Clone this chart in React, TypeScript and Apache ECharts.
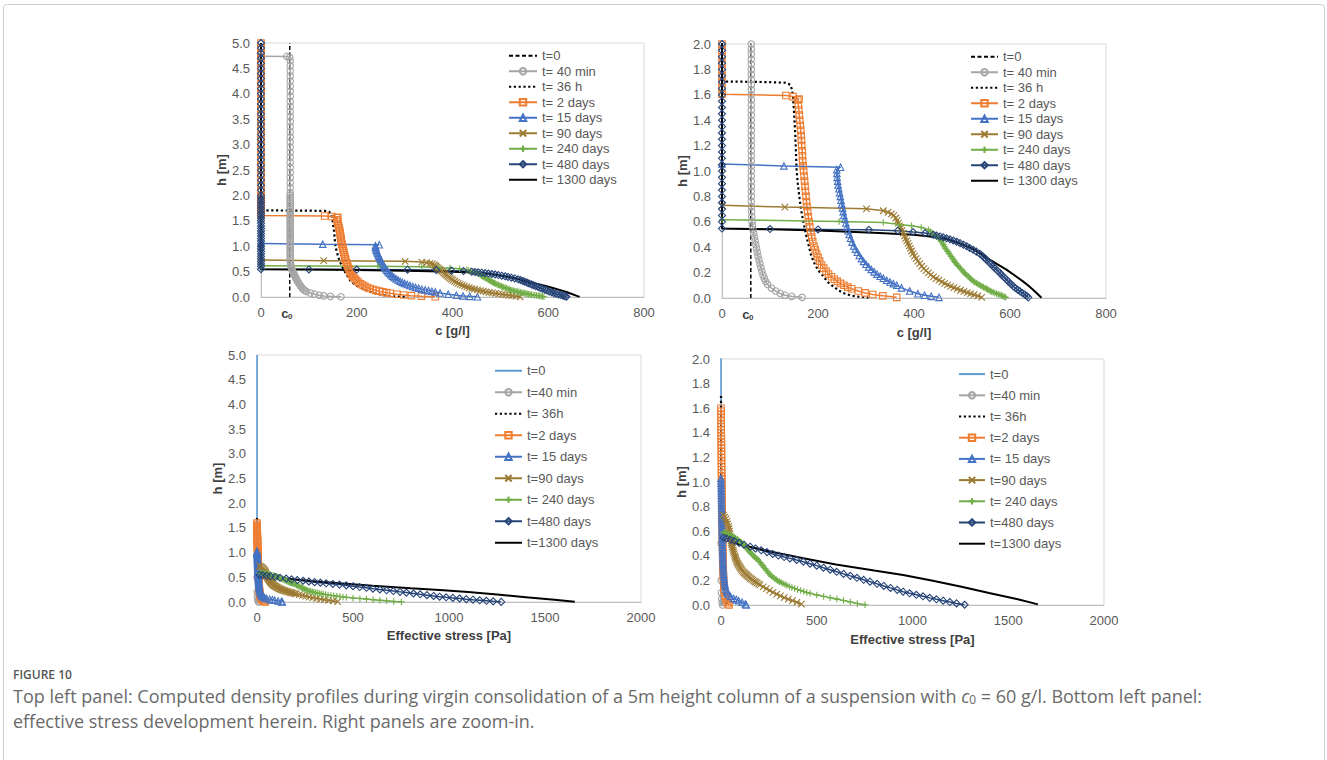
import React, { useEffect, useRef } from "react";
import * as echarts from "echarts";

type Pt = [number, number];

// ---------- legend names ----------
const topNames = ["t=0", "t= 40 min", "t= 36 h", "t= 2 days", "t= 15 days", "t= 90 days", "t= 240 days", "t= 480 days", "t= 1300 days"];
const bottomNames = ["t=0", "t=40 min", "t= 36h", "t=2 days", "t= 15 days", "t=90 days", "t= 240 days", "t=480 days", "t=1300 days"];

// ---------- axis ticks ----------
const cTicks = { min: 0, max: 800, step: 200 };
const sTicks = { min: 0, max: 2000, step: 500 };
const hFull = { min: 0, max: 5, step: 0.5 };
const hZoom = { min: 0, max: 2, step: 0.2 };
const c0Value = 60;

// heights of the marker column along c = 0 (above the interface)
const zeroColumnH = [5.0, 4.9, 4.8, 4.7, 4.6, 4.5, 4.4, 4.3, 4.2, 4.1, 4.0, 3.9, 3.8, 3.7, 3.6, 3.5, 3.4, 3.3, 3.2, 3.1, 3.0, 2.9, 2.8, 2.7, 2.6, 2.5, 2.4, 2.3, 2.2, 2.1, 2.0, 1.95, 1.9, 1.85, 1.8, 1.75, 1.7, 1.65, 1.6, 1.55, 1.5, 1.45, 1.4, 1.35, 1.3, 1.25, 1.2, 1.15, 1.1, 1.05, 1.0, 0.95, 0.9, 0.85, 0.8, 0.75, 0.7, 0.65, 0.6];

// interface heights (top of sediment) per time
const interfaceH = [5.0, 4.74, 1.705, 1.605, 1.055, 0.73, 0.616, 0.547, 0.548];

// ---------- density profiles [c (g/l), h (m)] ----------
const densT0: Pt[] = [[60, 0], [60, 5]];
const dens40min: Pt[] = [[0, 4.74], [54, 4.735], [60, 4.72],
  [61, 4.65], [61, 4.55], [61, 4.45], [61, 4.35], [61, 4.25], [61, 4.15], [61, 4.05], [61, 3.95], [61, 3.85], [61, 3.75], [61, 3.65], [61, 3.55], [61, 3.45], [61, 3.35], [61, 3.25], [61, 3.15], [61, 3.05], [61, 2.95], [61, 2.85], [61, 2.75], [61, 2.65], [61, 2.55], [61, 2.45], [61, 2.35], [61, 2.25], [61, 2.15], [61, 2.05],
  [61, 2.0], [61, 1.96], [61, 1.92], [61, 1.88], [61, 1.84], [61, 1.8], [61, 1.76], [61, 1.72], [61, 1.68], [61, 1.64], [61, 1.6], [61, 1.56], [61, 1.52], [61, 1.48], [61, 1.44], [61, 1.4], [61, 1.36], [61, 1.32], [61, 1.28], [61, 1.24], [61, 1.2], [61, 1.16], [61, 1.12], [61, 1.08], [61, 1.04], [61, 1.0], [61, 0.96], [61, 0.92], [61, 0.88], [61, 0.84], [61, 0.8], [61, 0.76],
  [61.3, 0.72], [61.6, 0.68], [62, 0.64], [62.5, 0.6], [63.5, 0.57], [64.5, 0.54], [66, 0.51], [67.5, 0.48], [69, 0.45], [70.5, 0.42], [72, 0.39], [73.5, 0.36], [75, 0.33], [77, 0.3], [79, 0.27], [81, 0.24], [83, 0.21], [85.5, 0.18], [88, 0.155], [91, 0.13], [95, 0.107],
  [103, 0.078], [112, 0.055], [121.5, 0.036], [131, 0.022], [145, 0.013], [167, 0.005]];
const dens36h: Pt[] = [[0, 5.0], [0, 1.705], [45, 1.703], [95, 1.7], [132, 1.695], [142, 1.68], [146, 1.64], [148, 1.58], [149.5, 1.5], [151, 1.4], [152.5, 1.3], [153.5, 1.2], [154.5, 1.1], [155.5, 1.0], [158, 0.9], [161, 0.8], [164.5, 0.7], [169.5, 0.6], [175, 0.5], [181.5, 0.4], [186, 0.33], [193, 0.27], [200, 0.22], [208, 0.185], [213, 0.16], [222, 0.12], [232, 0.09], [243, 0.06], [252, 0.04], [268, 0.02], [285, 0.01], [305, 0.003]];
const dens2d: Pt[] = [[0, 1.605], [133, 1.594], [148, 1.586], [160.5, 1.567], [158, 1.56], [159, 1.52], [160, 1.48], [161, 1.44], [162, 1.4], [163, 1.36], [164, 1.32], [165, 1.28], [165.5, 1.24], [166, 1.2], [167, 1.16], [167.5, 1.12], [168, 1.08], [169, 1.04], [170, 1.0], [171, 0.96], [172, 0.92], [173, 0.88], [174, 0.84], [175, 0.8], [176, 0.76], [177, 0.72], [178.5, 0.68], [180, 0.64], [181.5, 0.6], [183, 0.56], [185, 0.52], [187, 0.48], [189, 0.445], [191.5, 0.41], [194, 0.38], [197, 0.35], [200, 0.32], [203.5, 0.29], [207.5, 0.26], [212, 0.235], [217, 0.21], [222, 0.188], [228, 0.167], [234, 0.148], [240, 0.131], [247, 0.115], [254, 0.1], [262, 0.086], [270, 0.073], [284, 0.055], [298, 0.04], [314, 0.027], [335, 0.017], [364, 0.005]];
const dens15d: Pt[] = [[0, 1.055], [129, 1.04], [247, 1.03], [239, 1.01], [239.5, 0.98], [240, 0.95], [241, 0.92], [242, 0.89], [243.5, 0.86], [245, 0.83], [246.5, 0.8], [248, 0.77], [249.5, 0.74], [251, 0.71], [252.5, 0.68], [254, 0.65], [256, 0.62], [258, 0.59], [260, 0.56], [262.5, 0.53], [265, 0.5], [268, 0.47], [271, 0.44], [274.5, 0.41], [278, 0.385], [282, 0.36], [286, 0.335], [290.5, 0.31], [295, 0.288], [300, 0.266], [305.5, 0.245], [311, 0.225], [317, 0.206], [323, 0.188], [329.5, 0.171], [336, 0.155], [343, 0.14], [350, 0.126], [357, 0.113], [364, 0.1], [374, 0.08], [391, 0.055], [408, 0.034], [422, 0.022], [436, 0.013], [452, 0.005]];
const dens90d: Pt[] = [[0, 0.73], [131, 0.716], [301, 0.702], [336, 0.687], [346, 0.674], [353, 0.663], [358, 0.65], [362, 0.63], [365, 0.61], [367.5, 0.59], [370, 0.57], [372.5, 0.55], [375, 0.53], [377.5, 0.51], [380, 0.49], [382.5, 0.47], [385, 0.45], [387.5, 0.43], [390, 0.41], [392.5, 0.39], [395, 0.37], [398, 0.35], [401, 0.33], [404.5, 0.31], [408, 0.29], [412, 0.27], [416, 0.25], [420.5, 0.232], [425, 0.215], [430, 0.198], [435, 0.182], [440.5, 0.167], [446, 0.153], [452, 0.14], [458, 0.127], [464, 0.115], [470, 0.103], [476.5, 0.092], [483, 0.081], [490, 0.071], [497, 0.061], [504, 0.052], [511, 0.043], [518, 0.034], [525, 0.026], [533, 0.016], [541, 0.005]];
const dens240d: Pt[] = [[0, 0.616], [244, 0.603], [336, 0.595], [370, 0.578], [395, 0.569], [415, 0.556], [430, 0.537], [434, 0.524], [438, 0.511], [443, 0.498], [447, 0.485], [451, 0.472], [454, 0.459], [457, 0.446], [459.5, 0.433], [461, 0.42], [463, 0.407], [465, 0.393], [468, 0.38], [470, 0.367], [472.5, 0.353], [475, 0.34], [477.5, 0.327], [480, 0.314], [482, 0.301], [484, 0.29], [486, 0.28], [488, 0.27], [490.5, 0.259], [493, 0.248], [496, 0.236], [499, 0.224], [502, 0.212], [504, 0.2], [507, 0.19], [510, 0.18], [513, 0.17], [516, 0.16], [518.5, 0.15], [521, 0.14], [524, 0.132], [527, 0.125], [530, 0.118], [533, 0.111], [536, 0.104], [539, 0.097], [542, 0.091], [545, 0.085], [548, 0.079], [551, 0.073], [553.5, 0.067], [556, 0.062], [559, 0.056], [562, 0.05], [565, 0.045], [568.5, 0.04], [572, 0.034], [575.5, 0.03], [579, 0.026], [582, 0.02], [585, 0.015], [588, 0.01], [591, 0.005]];
const dens480d: Pt[] = [[0, 0.547], [100, 0.543], [200, 0.54], [306, 0.537], [366, 0.53], [398, 0.519], [423, 0.511], [440, 0.498], [447, 0.492], [454, 0.485], [461, 0.478], [468, 0.47], [475, 0.462], [482, 0.453], [489, 0.443], [496, 0.432], [503, 0.42], [510, 0.407], [516, 0.394], [523, 0.38], [530, 0.365], [537, 0.349], [542, 0.333], [547, 0.316], [551, 0.3], [556, 0.283], [560, 0.266], [565, 0.249], [569, 0.232], [574, 0.214], [579, 0.197], [583, 0.18], [588, 0.162], [593, 0.144], [597, 0.127], [602, 0.11], [607, 0.092], [611, 0.078], [616, 0.065], [621, 0.052], [626, 0.039], [631, 0.026], [635, 0.015], [638, 0.005]];
const dens1300d: Pt[] = [[0, 5.0], [0, 0.548], [100, 0.541], [200, 0.532], [328, 0.512], [398, 0.498], [430, 0.487], [467.5, 0.462], [495, 0.43], [523, 0.387], [541, 0.345], [557.7, 0.302], [575, 0.262], [592.5, 0.223], [610, 0.177], [627, 0.131], [638, 0.098], [648, 0.065], [657, 0.033], [665.5, 0.002]];

// ---------- effective stress profiles [sigma (Pa), h (m)] ----------
const stressT0: Pt[] = [[0, 0], [0, 5]];
const stress40min: Pt[] = [[0, 0.5], [1, 0.2], [2, 0.1], [4, 0.05], [6, 0.02], [8, 0.0]];
const stress36h: Pt[] = [[0, 1.7], [0.5, 1.5], [1, 1.2], [2, 0.9], [3, 0.6], [5, 0.4], [8, 0.25], [12, 0.15], [18, 0.08], [27, 0.03], [38, 0.0]];
const stress2d: Pt[] = [[0, 1.6], [0.2, 1.575], [0.3, 1.55], [0.5, 1.525], [0.6, 1.5], [0.8, 1.475], [0.9, 1.45], [1.1, 1.425], [1.2, 1.4], [1.4, 1.375], [1.5, 1.35], [1.7, 1.325], [1.8, 1.3], [2, 1.275], [2.1, 1.25], [2.3, 1.225], [2.4, 1.2], [2.6, 1.175], [2.7, 1.15], [2.9, 1.125], [3, 1.1], [3.2, 1.075], [3.3, 1.05], [3.5, 1.025], [3.6, 1.0], [3.8, 0.975], [4, 0.95], [4.2, 0.925], [4.4, 0.9], [4.6, 0.875], [4.8, 0.85], [5, 0.825], [5.2, 0.8], [5.4, 0.775], [5.6, 0.75], [5.8, 0.725], [6, 0.7], [6.3, 0.675], [6.5, 0.65], [6.8, 0.625], [7, 0.6], [7.3, 0.575], [7.5, 0.55], [7.8, 0.525], [8, 0.5], [8.4, 0.475], [8.7, 0.45], [9, 0.425], [9.4, 0.4], [9.8, 0.375], [10.2, 0.35], [10.6, 0.325], [11, 0.3], [11.6, 0.275], [12.2, 0.25], [12.8, 0.225], [13.5, 0.2], [14.5, 0.175], [15.5, 0.15], [17, 0.125], [18.5, 0.1], [22, 0.07], [27, 0.045], [32, 0.025], [37, 0.01], [42, 0.0]];
const stress15d: Pt[] = [[0, 1.03], [0.3, 1.01], [0.5, 0.99], [0.8, 0.97], [1, 0.95], [1.3, 0.93], [1.5, 0.91], [1.8, 0.89], [2, 0.87], [2.3, 0.85], [2.5, 0.83], [2.8, 0.81], [3, 0.79], [3.3, 0.77], [3.5, 0.75], [3.8, 0.73], [4, 0.71], [4.3, 0.69], [4.5, 0.67], [4.8, 0.65], [5, 0.63], [5.3, 0.61], [5.5, 0.59], [5.8, 0.57], [6, 0.55], [6.3, 0.53], [6.6, 0.51], [7, 0.49], [7.4, 0.47], [7.8, 0.45], [8.2, 0.43], [8.6, 0.41], [9, 0.39], [9.5, 0.37], [10, 0.35], [10.6, 0.33], [11.2, 0.31], [12, 0.29], [12.8, 0.27], [13.8, 0.25], [15, 0.23], [16.5, 0.21], [18, 0.19], [20, 0.17], [22.5, 0.15], [25.5, 0.13], [29, 0.115], [33, 0.1], [40, 0.085], [50, 0.07], [66, 0.054], [80, 0.044], [92, 0.035], [110, 0.022], [127, 0.008], [132, 0.0]];
const stress90d: Pt[] = [[13, 0.73], [20, 0.715], [26, 0.7], [31, 0.68], [35, 0.66], [40, 0.64], [42, 0.62], [44, 0.6], [46, 0.58], [48, 0.56], [50, 0.54], [52, 0.52], [54, 0.505], [56, 0.49], [58.5, 0.475], [61, 0.46], [63.5, 0.445], [66, 0.43], [69, 0.415], [72, 0.4], [74.5, 0.387], [77, 0.375], [80, 0.362], [83, 0.35], [86.5, 0.34], [90, 0.33], [94, 0.32], [98, 0.31], [102, 0.3], [106, 0.29], [111, 0.28], [116, 0.27], [121, 0.262], [126, 0.255], [131, 0.247], [136, 0.24], [141.5, 0.232], [147, 0.225], [153.5, 0.217], [160, 0.21], [166.5, 0.202], [173, 0.195], [180.5, 0.187], [188, 0.18], [196, 0.171], [204, 0.163], [220, 0.148], [237, 0.133], [254, 0.118], [272, 0.103], [291, 0.088], [310, 0.074], [330, 0.06], [351, 0.047], [373, 0.035], [396, 0.022], [420, 0.008]];
const stress240d: Pt[] = [[13, 0.59], [19, 0.588], [25, 0.585], [32, 0.58], [40, 0.575], [47, 0.57], [55, 0.565], [62, 0.558], [70, 0.55], [77, 0.543], [85, 0.535], [92, 0.525], [100, 0.515], [106, 0.508], [112, 0.5], [118, 0.49], [124, 0.48], [130, 0.47], [135, 0.46], [141, 0.45], [146, 0.44], [152, 0.43], [157, 0.42], [163, 0.41], [168, 0.4], [174, 0.392], [180, 0.385], [186, 0.378], [192, 0.37], [198, 0.357], [205, 0.345], [211, 0.332], [218, 0.32], [224, 0.307], [231, 0.295], [237, 0.282], [244, 0.27], [250, 0.257], [257, 0.245], [264, 0.235], [272, 0.225], [280, 0.216], [288, 0.207], [296, 0.198], [305, 0.19], [314, 0.182], [324, 0.175], [334, 0.167], [344, 0.16], [357, 0.151], [370, 0.143], [385, 0.134], [400, 0.126], [416, 0.118], [432, 0.11], [448, 0.102], [465, 0.095], [500, 0.082], [536, 0.07], [570, 0.059], [605, 0.048], [640, 0.036], [675, 0.024], [712, 0.012], [752, 0.002]];
const stress480d: Pt[] = [[14, 0.547], [30, 0.54], [50, 0.53], [70, 0.52], [95, 0.505], [120, 0.49], [152, 0.474], [180, 0.46], [210, 0.445], [240, 0.43], [270, 0.415], [300, 0.402], [330, 0.39], [360, 0.379], [395, 0.366], [430, 0.352], [465, 0.336], [500, 0.32], [535, 0.303], [570, 0.287], [604, 0.27], [640, 0.253], [675, 0.237], [710, 0.221], [745, 0.205], [778, 0.19], [815, 0.172], [850, 0.155], [885, 0.139], [920, 0.123], [951, 0.108], [985, 0.095], [1020, 0.083], [1055, 0.071], [1090, 0.058], [1125, 0.046], [1160, 0.035], [1195, 0.024], [1230, 0.013], [1272, 0.002]];
const stress1300d: Pt[] = [[40, 0.52], [100, 0.49], [200, 0.455], [300, 0.42], [430, 0.38], [600, 0.33], [800, 0.28], [951, 0.244], [1100, 0.2], [1250, 0.15], [1400, 0.097], [1550, 0.046], [1655, 0.005]];

// ---------- styles ----------
const X_SYMBOL = "path://M0,0L10,10M10,0L0,10";
const PLUS_SYMBOL = "path://M5,0L5,10M0,5L10,5";
const TOP_STYLE = [
  { color: "#000000", symbol: "none", width: 1.5, dash: [4, 2.5] },
  { color: "#A5A5A5", symbol: "circle", width: 1.5 },
  { color: "#000000", symbol: "none", width: 2.2, dash: [2.2, 2.6] },
  { color: "#ED7D31", symbol: "rect", width: 1.5 },
  { color: "#4472C4", symbol: "triangle", width: 1.5 },
  { color: "#9C7A32", symbol: X_SYMBOL, width: 1.5 },
  { color: "#70AD47", symbol: PLUS_SYMBOL, width: 1.5 },
  { color: "#264478", symbol: "diamond", width: 1.5 },
  { color: "#000000", symbol: "none", width: 2 },
];
const BOTTOM_STYLE = [{ color: "#5B9BD5", symbol: "none", width: 1.5 }, ...TOP_STYLE.slice(1)];

const FONT = "'Liberation Sans', Arial, sans-serif";
const TICK_COLOR = "#595959";
const TITLE_COLOR = "#404040";

function withColumn(idx: number, pts: Pt[]): Pt[] {
  const top = interfaceH[idx];
  const col: Pt[] = zeroColumnH.filter((h) => h > top + 0.02).map((h) => [0, h] as Pt);
  return [...col, ...pts];
}

const densData: Pt[][] = [
  densT0,
  dens40min,
  dens36h,
  withColumn(3, dens2d),
  dens15d,
  dens90d,
  dens240d,
  withColumn(7, dens480d),
  dens1300d,
];
const stressData: Pt[][] = [stressT0, stress40min, stress36h, stress2d, stress15d, stress90d, stress240d, stress480d, stress1300d];

function makeSeries(prefix: string, names: string[], data: Pt[][], styles: any[], g: number) {
  return names.map((n, i) => {
    const s = styles[i];
    const hasSym = s.symbol !== "none";
    return {
      name: prefix + "|" + n,
      type: "line",
      xAxisIndex: g,
      yAxisIndex: g,
      data: data[i],
      symbol: hasSym ? s.symbol : "circle",
      showSymbol: hasSym,
      symbolSize: s.symbol === "diamond" ? 7 : 6.5,
      lineStyle: { color: s.color, width: s.width, type: s.dash ? s.dash : "solid", cap: "butt" },
      itemStyle: hasSym
        ? { color: "rgba(255,255,255,0)", borderColor: s.color, borderWidth: 1.1 }
        : { color: "rgba(255,255,255,0)", borderColor: "rgba(255,255,255,0)", borderWidth: 0 },
      emphasis: { disabled: true },
      silent: true,
      z: 2,
    };
  });
}

function xAxis(g: number, t: { min: number; max: number; step: number }, name: string, gap: number) {
  return {
    type: "value", gridIndex: g, min: t.min, max: t.max, interval: t.step,
    axisLine: { show: true, onZero: false, lineStyle: { color: "#BFBFBF", width: 1 } },
    axisTick: { show: false }, splitLine: { show: false },
    axisLabel: { fontSize: 13, color: TICK_COLOR, margin: 9, fontFamily: FONT, formatter: (v: number) => String(v) },
    name, nameLocation: "middle", nameGap: gap,
    nameTextStyle: { fontSize: 13, fontWeight: "bold", color: TITLE_COLOR, fontFamily: FONT },
  };
}
function yAxis(g: number, t: { min: number; max: number; step: number }) {
  return {
    type: "value", gridIndex: g, min: t.min, max: t.max, interval: t.step,
    axisLine: { show: true, onZero: false, lineStyle: { color: "#BFBFBF", width: 1 } },
    axisTick: { show: false }, splitLine: { show: false },
    axisLabel: { fontSize: 13, color: TICK_COLOR, margin: 11, fontFamily: FONT, formatter: (v: number) => v.toFixed(1) },
    name: "h [m]", nameLocation: "middle", nameGap: 32, nameRotate: 90,
    nameTextStyle: { fontSize: 13, fontWeight: "bold", color: TITLE_COLOR, fontFamily: FONT },
  };
}
function legend(prefix: string, names: string[], left: number, top: number, itemWidth: number, lh: number) {
  return {
    orient: "vertical", left, top, padding: 0, itemGap: 0, itemWidth, itemHeight: 8,
    selectedMode: false,
    data: names.map((n) => prefix + "|" + n),
    formatter: (n: string) => n.split("|")[1],
    textStyle: { fontSize: 13, color: TICK_COLOR, fontFamily: FONT, lineHeight: lh },
  };
}

const grids = [
  { left: 261, top: 43, width: 383, height: 254 },
  { left: 722, top: 44, width: 384, height: 254 },
  { left: 257, top: 355, width: 384, height: 247 },
  { left: 721, top: 359, width: 383, height: 246 },
];

const option: any = {
  animation: false,
  backgroundColor: "#ffffff",
  textStyle: { fontFamily: FONT },
  grid: grids.map((g) => ({ ...g, show: true, borderColor: "#D9D9D9", borderWidth: 1, backgroundColor: "rgba(0,0,0,0)", containLabel: false })),
  xAxis: [
    xAxis(0, cTicks, "c [g/l]", 27),
    xAxis(1, cTicks, "c [g/l]", 28),
    xAxis(2, sTicks, "Effective stress [Pa]", 27),
    xAxis(3, sTicks, "Effective stress [Pa]", 28),
  ],
  yAxis: [yAxis(0, hFull), yAxis(1, hZoom), yAxis(2, hFull), yAxis(3, hZoom)],
  legend: [
    legend("A", topNames, 508, 48, 28, 15.5),
    legend("B", topNames, 970, 49, 27, 15.5),
    legend("C", bottomNames, 494, 360, 27, 21.5),
    legend("D", bottomNames, 958, 363.5, 26, 21.2),
  ],
  series: [
    ...makeSeries("A", topNames, densData, TOP_STYLE, 0),
    ...makeSeries("B", topNames, densData, TOP_STYLE, 1),
    ...makeSeries("C", bottomNames, stressData, BOTTOM_STYLE, 2),
    ...makeSeries("D", bottomNames, stressData, BOTTOM_STYLE, 3),
  ],
};

const CAPTION_LABEL = "FIGURE 10";
const CAPTION_LINE1_A = "Top left panel: Computed density profiles during virgin consolidation of a 5m height column of a suspension with ";
const CAPTION_LINE1_B = " = 60 g/l. Bottom left panel:";
const CAPTION_LINE2 = "effective stress development herein. Right panels are zoom-in.";

function c0Label(p: number[]) {
  return {
    type: "group", x: p[0] - 8.5, y: p[1] + 16,
    children: [
      { type: "text", x: 0, y: 0, style: { text: "c", font: "bold 13px " + FONT, fill: TITLE_COLOR, verticalAlign: "middle" } },
      { type: "text", x: 6.8, y: 3, style: { text: "0", font: "bold 8px " + FONT, fill: TITLE_COLOR, verticalAlign: "middle" } },
    ],
  };
}

export default function App() {
  const ref = useRef<HTMLDivElement>(null);
  useEffect(() => {
    const el = ref.current!;
    const chart = echarts.init(el, undefined, { renderer: "svg" });
    chart.setOption(option);
    const p1 = chart.convertToPixel({ gridIndex: 0 } as any, [c0Value, 0]) as unknown as number[];
    const p2 = chart.convertToPixel({ gridIndex: 1 } as any, [c0Value, 0]) as unknown as number[];
    const capFont = "'Open Sans', 'Noto Sans', sans-serif";
    chart.setOption({
      graphic: [
        { type: "rect", silent: true, z: -10, shape: { x: 3.5, y: 4.5, width: 1321, height: 800, r: 4 }, style: { fill: "none", stroke: "#CCCCCC", lineWidth: 1 } },
        c0Label(p1),
        c0Label(p2),
        { type: "text", x: 13, y: 674, silent: true, style: { text: CAPTION_LABEL, font: "600 12px " + capFont, fill: "#555555", verticalAlign: "middle" } },
        {
          type: "text", x: 13, y: 695.5, silent: true,
          style: {
            text: "{n|" + CAPTION_LINE1_A + "}{i|c}{s|0}{n|" + CAPTION_LINE1_B + "}",
            verticalAlign: "middle",
            rich: {
              n: { font: "18px " + capFont, fill: "#6a6a6a", lineHeight: 20 },
              i: { font: "italic 18px " + capFont, fill: "#6a6a6a", lineHeight: 20 },
              s: { font: "12px " + capFont, fill: "#6a6a6a", lineHeight: 8, verticalAlign: "bottom" },
            },
          },
        },
        { type: "text", x: 13, y: 720.5, silent: true, style: { text: CAPTION_LINE2, font: "18px " + capFont, fill: "#6a6a6a", verticalAlign: "middle", lineHeight: 20 } },
      ],
    });
    return () => chart.dispose();
  }, []);
  return <div ref={ref} style={{ position: "absolute", left: 0, top: 0, width: 1327, height: 760, background: "#fff" }} />;
}
